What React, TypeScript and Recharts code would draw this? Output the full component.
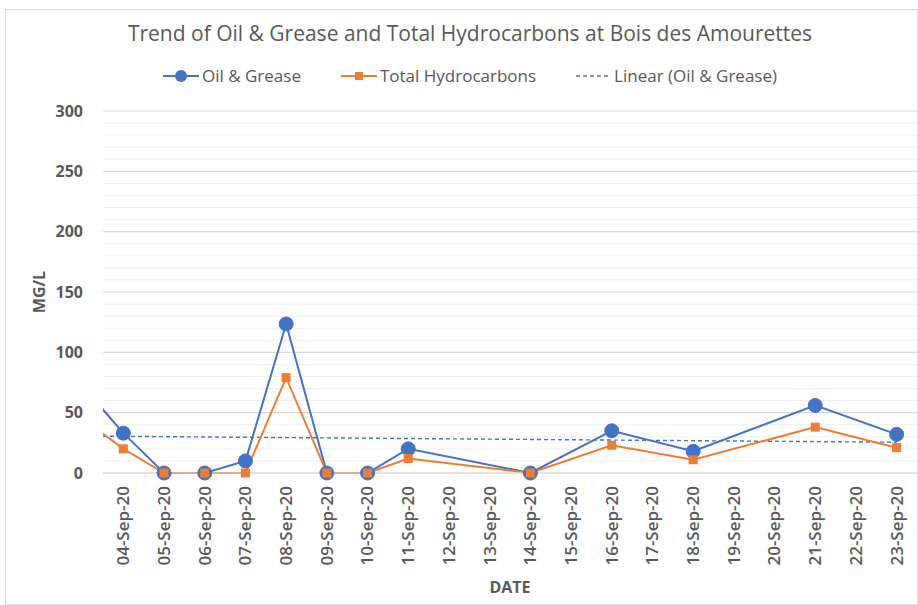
import React from 'react';
import { LineChart, Line, XAxis, YAxis, CartesianGrid, ReferenceLine } from 'recharts';

// Sampling days (September 2020). Day 3 lies left of the visible axis and is clipped.
const days = [3, 4, 5, 6, 7, 8, 9, 10, 11, 14, 16, 18, 21, 23];
const oilGrease = [72, 33, 0, 0, 10, 123.5, 0, 0, 20, 0, 35, 18, 56, 32];
const totalHydrocarbons = [45, 20, 0, 0, 0, 79, 0, 0, 12, 0, 23, 11, 38, 21];

const trendDays = [3.5, 23];
const trendValues = [30.5, 25.5];

const tickDays = [4, 5, 6, 7, 8, 9, 10, 11, 12, 13, 14, 15, 16, 17, 18, 19, 20, 21, 22, 23];
const tickLabels = [
  '04-Sep-20', '05-Sep-20', '06-Sep-20', '07-Sep-20', '08-Sep-20', '09-Sep-20', '10-Sep-20',
  '11-Sep-20', '12-Sep-20', '13-Sep-20', '14-Sep-20', '15-Sep-20', '16-Sep-20', '17-Sep-20',
  '18-Sep-20', '19-Sep-20', '20-Sep-20', '21-Sep-20', '22-Sep-20', '23-Sep-20',
];
const yMajorTicks = [0, 50, 100, 150, 200, 250, 300];
const yMinorTicks = [10, 20, 30, 40, 60, 70, 80, 90, 110, 120, 130, 140, 160, 170, 180, 190, 210, 220, 230, 240, 260, 270, 280, 290];

const title = 'Trend of Oil & Grease and Total Hydrocarbons at Bois des Amourettes';
const seriesNames = ['Oil & Grease', 'Total Hydrocarbons', 'Linear (Oil & Grease)'];

const BLUE = '#4472C4';
const ORANGE = '#ED7D31';
const TEXT = '#595959';
const FONT = '"Open Sans", "DejaVu Sans", sans-serif';

const data = days.map((d, i) => ({ day: d, og: oilGrease[i], th: totalHydrocarbons[i] }));
const trendData = trendDays.map((d, i) => ({ day: d, trend: trendValues[i] }));

const CircleDot = (props: any) => {
  const { cx, cy, payload } = props;
  if (cx == null || cy == null || payload.day < 4) return null;
  return <circle cx={cx} cy={cy} r={7} fill={BLUE} stroke={BLUE} strokeWidth={1} />;
};

const SquareDot = (props: any) => {
  const { cx, cy, payload } = props;
  if (cx == null || cy == null || payload.day < 4) return null;
  return <rect x={cx - 4.5} y={cy - 4.5} width={9} height={9} fill={ORANGE} />;
};

const XTick = (props: any) => {
  const { x, y, payload } = props;
  const idx = tickDays.indexOf(payload.value);
  const label = idx >= 0 ? tickLabels[idx] : '';
  return (
    <text
      x={x}
      y={y}
      transform={`rotate(-90, ${x}, ${y})`}
      textAnchor="end"
      dy="0.35em"
      fill={TEXT}
      fontSize={17}
      fontWeight={600}
      fontFamily={FONT}
    >
      {label}
    </text>
  );
};

export default function App() {
  return (
    <div
      style={{
        position: 'absolute',
        left: 5,
        top: 9,
        width: 913,
        height: 596,
        border: '1px solid #d9d9d9',
        background: '#fff',
        fontFamily: FONT,
        boxSizing: 'border-box',
      }}
    >
      <div
        style={{
          position: 'absolute',
          left: 0,
          width: 928,
          top: 9,
          textAlign: 'center',
          fontSize: 21,
          color: TEXT,
          whiteSpace: 'nowrap',
        }}
      >
        {title}
      </div>
      <div
        style={{
          position: 'absolute',
          top: 54,
          left: 0,
          width: 928,
          display: 'flex',
          justifyContent: 'center',
          fontSize: 17,
          color: TEXT,
          whiteSpace: 'nowrap',
        }}
      >
        <span style={{ display: 'flex', alignItems: 'center', marginRight: 40 }}>
          <svg width={36} height={16} style={{ marginRight: 3 }}>
            <line x1={0} y1={8} x2={36} y2={8} stroke={BLUE} strokeWidth={2} />
            <circle cx={18} cy={8} r={6} fill={BLUE} />
          </svg>
          {seriesNames[0]}
        </span>
        <span style={{ display: 'flex', alignItems: 'center', marginRight: 40 }}>
          <svg width={36} height={16} style={{ marginRight: 3 }}>
            <line x1={0} y1={8} x2={36} y2={8} stroke={ORANGE} strokeWidth={2} />
            <rect x={14} y={4} width={8} height={8} fill={ORANGE} />
          </svg>
          {seriesNames[1]}
        </span>
        <span style={{ display: 'flex', alignItems: 'center' }}>
          <svg width={32} height={16} style={{ marginRight: 6 }}>
            <line x1={0} y1={8} x2={32} y2={8} stroke={BLUE} strokeWidth={1.3} strokeDasharray="4 3" />
          </svg>
          {seriesNames[2]}
        </span>
      </div>
      <div style={{ position: 'absolute', left: 0, top: 0 }}>
        <LineChart
          width={913}
          height={596}
          data={data}
          margin={{ top: 101, right: 2, bottom: 0, left: 0 }}
        >
          {yMinorTicks.map((v) => (
            <ReferenceLine key={v} y={v} stroke="#efefef" strokeWidth={1} />
          ))}
          <CartesianGrid vertical={false} stroke="#d9d9d9" strokeWidth={1.2} />
          <XAxis
            dataKey="day"
            type="number"
            domain={[3.5, 23.5]}
            allowDataOverflow
            ticks={tickDays}
            interval={0}
            tick={<XTick />}
            tickSize={0}
            tickMargin={13}
            axisLine={{ stroke: '#d9d9d9', strokeWidth: 1.2 }}
            tickLine={false}
            height={133}
            label={{ value: 'DATE', position: 'insideBottom', offset: 13, fill: TEXT, fontSize: 16, fontWeight: 700, fontFamily: FONT }}
          />
          <YAxis
            type="number"
            domain={[0, 300]}
            ticks={yMajorTicks}
            width={97}
            tickSize={0}
            tickMargin={20}
            axisLine={false}
            tickLine={false}
            tick={{ fill: TEXT, fontSize: 16, fontWeight: 700, fontFamily: FONT }}
            label={{ value: 'MG/L', angle: -90, position: 'insideLeft', offset: 33, fill: TEXT, fontSize: 16, fontWeight: 700, fontFamily: FONT, style: { textAnchor: 'middle' } }}
          />
          <Line
            data={trendData}
            dataKey="trend"
            stroke={BLUE}
            strokeWidth={1.4}
            strokeDasharray="4 3"
            dot={false}
            activeDot={false}
            isAnimationActive={false}
          />
          <Line
            dataKey="og"
            stroke={BLUE}
            strokeWidth={2}
            dot={<CircleDot />}
            activeDot={false}
            isAnimationActive={false}
          />
          <Line
            dataKey="th"
            stroke={ORANGE}
            strokeWidth={2}
            dot={<SquareDot />}
            activeDot={false}
            isAnimationActive={false}
          />
        </LineChart>
      </div>
    </div>
  );
}
